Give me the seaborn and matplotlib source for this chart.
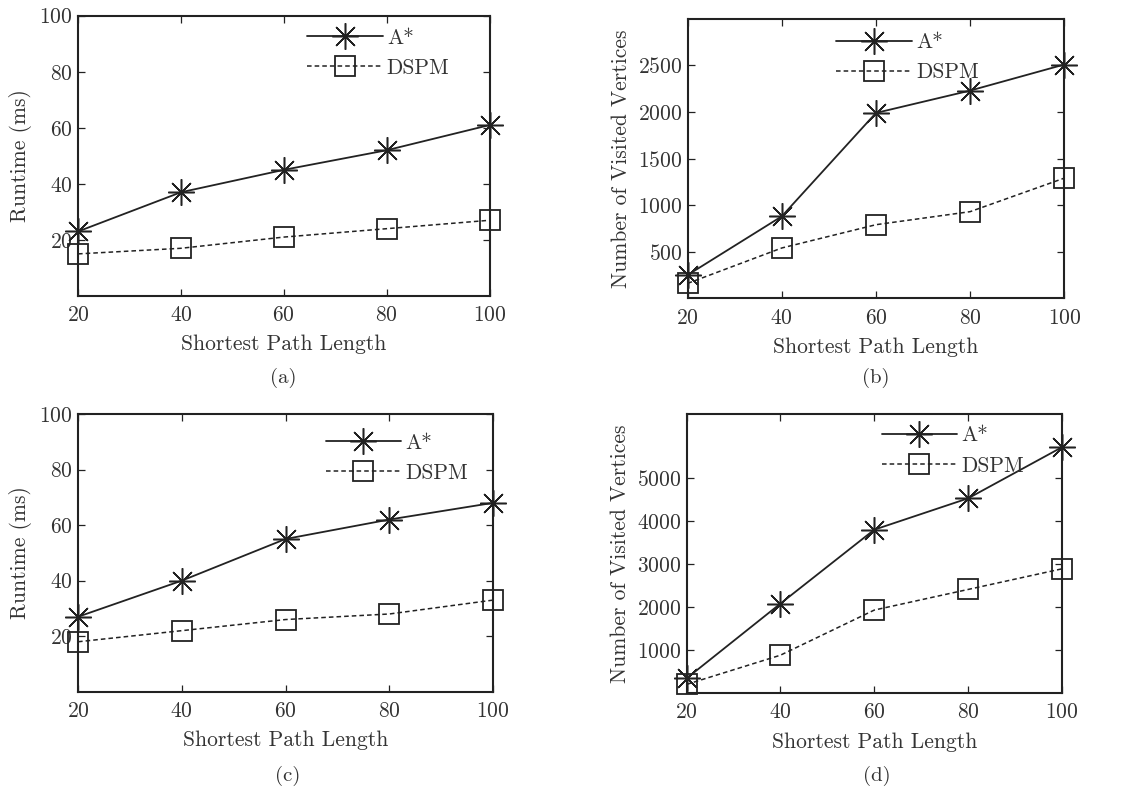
import matplotlib
matplotlib.use("Agg")
import matplotlib.pyplot as plt
import seaborn as sns
import pandas as pd

# ---- data ----
path_length = [20, 40, 60, 80, 100]
series_names = ["A*", "DSPM"]

runtime_a_astar = [23, 37, 45, 52, 61]
runtime_a_dspm = [15, 17, 21, 24, 27]

visited_b_astar = [250, 880, 1990, 2230, 2510]
visited_b_dspm = [160, 540, 790, 930, 1290]

runtime_c_astar = [27, 40, 55, 62, 68]
runtime_c_dspm = [18, 22, 26, 28, 33]

visited_d_astar = [340, 2080, 3800, 4530, 5720]
visited_d_dspm = [200, 880, 1930, 2410, 2890]

yticks_runtime = [20, 40, 60, 80, 100]
yticks_b = [500, 1000, 1500, 2000, 2500]
yticks_d = [1000, 2000, 3000, 4000, 5000]
xticks = [20, 40, 60, 80, 100]

captions = ["(a)", "(b)", "(c)", "(d)"]
xlabel = "Shortest Path Length"
ylabel_runtime = "Runtime (ms)"
ylabel_visited = "Number of Visited Vertices"

# ---- style ----
sns.set_style("ticks")
plt.rcParams["font.family"] = ["cmr10", "DejaVu Serif"]
plt.rcParams["axes.formatter.use_mathtext"] = True
plt.rcParams["mathtext.fontset"] = "cm"
INK = "#222222"
TXT = "#333333"
FS = 15.5

fig = plt.figure(figsize=(11.31, 7.87), dpi=100)

panels = [
    dict(rect=[0.069, 0.624, 0.364, 0.356], a=runtime_a_astar, d=runtime_a_dspm,
         ylim=(0, 100), yticks=yticks_runtime, ylabel=ylabel_runtime,
         leg=(0.520, 1.01), cap=(0.250, 0.5197)),
    dict(rect=[0.608, 0.621, 0.333, 0.355], a=visited_b_astar, d=visited_b_dspm,
         ylim=(0, 3000), yticks=yticks_b, ylabel=ylabel_visited,
         leg=(0.355, 1.005), cap=(0.7745, 0.5197)),
    dict(rect=[0.069, 0.121, 0.367, 0.353], a=runtime_c_astar, d=runtime_c_dspm,
         ylim=(0, 100), yticks=yticks_runtime, ylabel=ylabel_runtime,
         leg=(0.560, 0.985), cap=(0.254, 0.0140)),
    dict(rect=[0.607, 0.1194, 0.332, 0.355], a=visited_d_astar, d=visited_d_dspm,
         ylim=(0, 6500), yticks=yticks_d, ylabel=ylabel_visited,
         leg=(0.480, 1.01), cap=(0.7755, 0.0140)),
]

for i, p in enumerate(panels):
    ax = fig.add_axes(p["rect"])
    df = pd.DataFrame({
        "x": path_length * 2,
        "y": p["a"] + p["d"],
        "series": [series_names[0]] * 5 + [series_names[1]] * 5,
    })
    sns.lineplot(data=df[df.series == "A*"], x="x", y="y", ax=ax,
                 color=INK, lw=1.3, marker=(8, 2, 0), markersize=19,
                 markeredgewidth=1.1, markeredgecolor=INK, label="A*")
    sns.lineplot(data=df[df.series == "DSPM"], x="x", y="y", ax=ax,
                 color=INK, lw=1.1, linestyle=(0, (3, 2)), marker="s",
                 markersize=14.5, markerfacecolor="none", markeredgewidth=1.3,
                 markeredgecolor=INK, label="DSPM")
    ax.set_xlim(20, 100)
    ax.set_ylim(*p["ylim"])
    ax.set_xticks(xticks)
    ax.set_yticks(p["yticks"])
    ax.tick_params(direction="in", length=5, width=0.9, top=True, right=True,
                   labelsize=FS, colors=INK, labelcolor=TXT)
    ax.tick_params(axis="x", pad=7)
    ax.tick_params(axis="y", pad=4)
    for s in ax.spines.values():
        s.set_visible(True)
        s.set_linewidth(1.5)
        s.set_color(INK)
    ax.set_xlabel(xlabel, fontsize=FS, color=TXT, labelpad=7)
    ax.set_ylabel(p["ylabel"], fontsize=FS, color=TXT, labelpad=5)
    for ln in ax.lines:
        ln.set_clip_on(False)
    ax.legend(loc="upper left", bbox_to_anchor=p["leg"], frameon=False,
              fontsize=FS, handlelength=3.5, handletextpad=0.2,
              labelspacing=0.5, borderpad=0.2, labelcolor=TXT)
    fig.text(p["cap"][0], p["cap"][1], captions[i], fontsize=15, color=TXT,
             ha="center", va="center")

fig.savefig("out.png", dpi=100)
